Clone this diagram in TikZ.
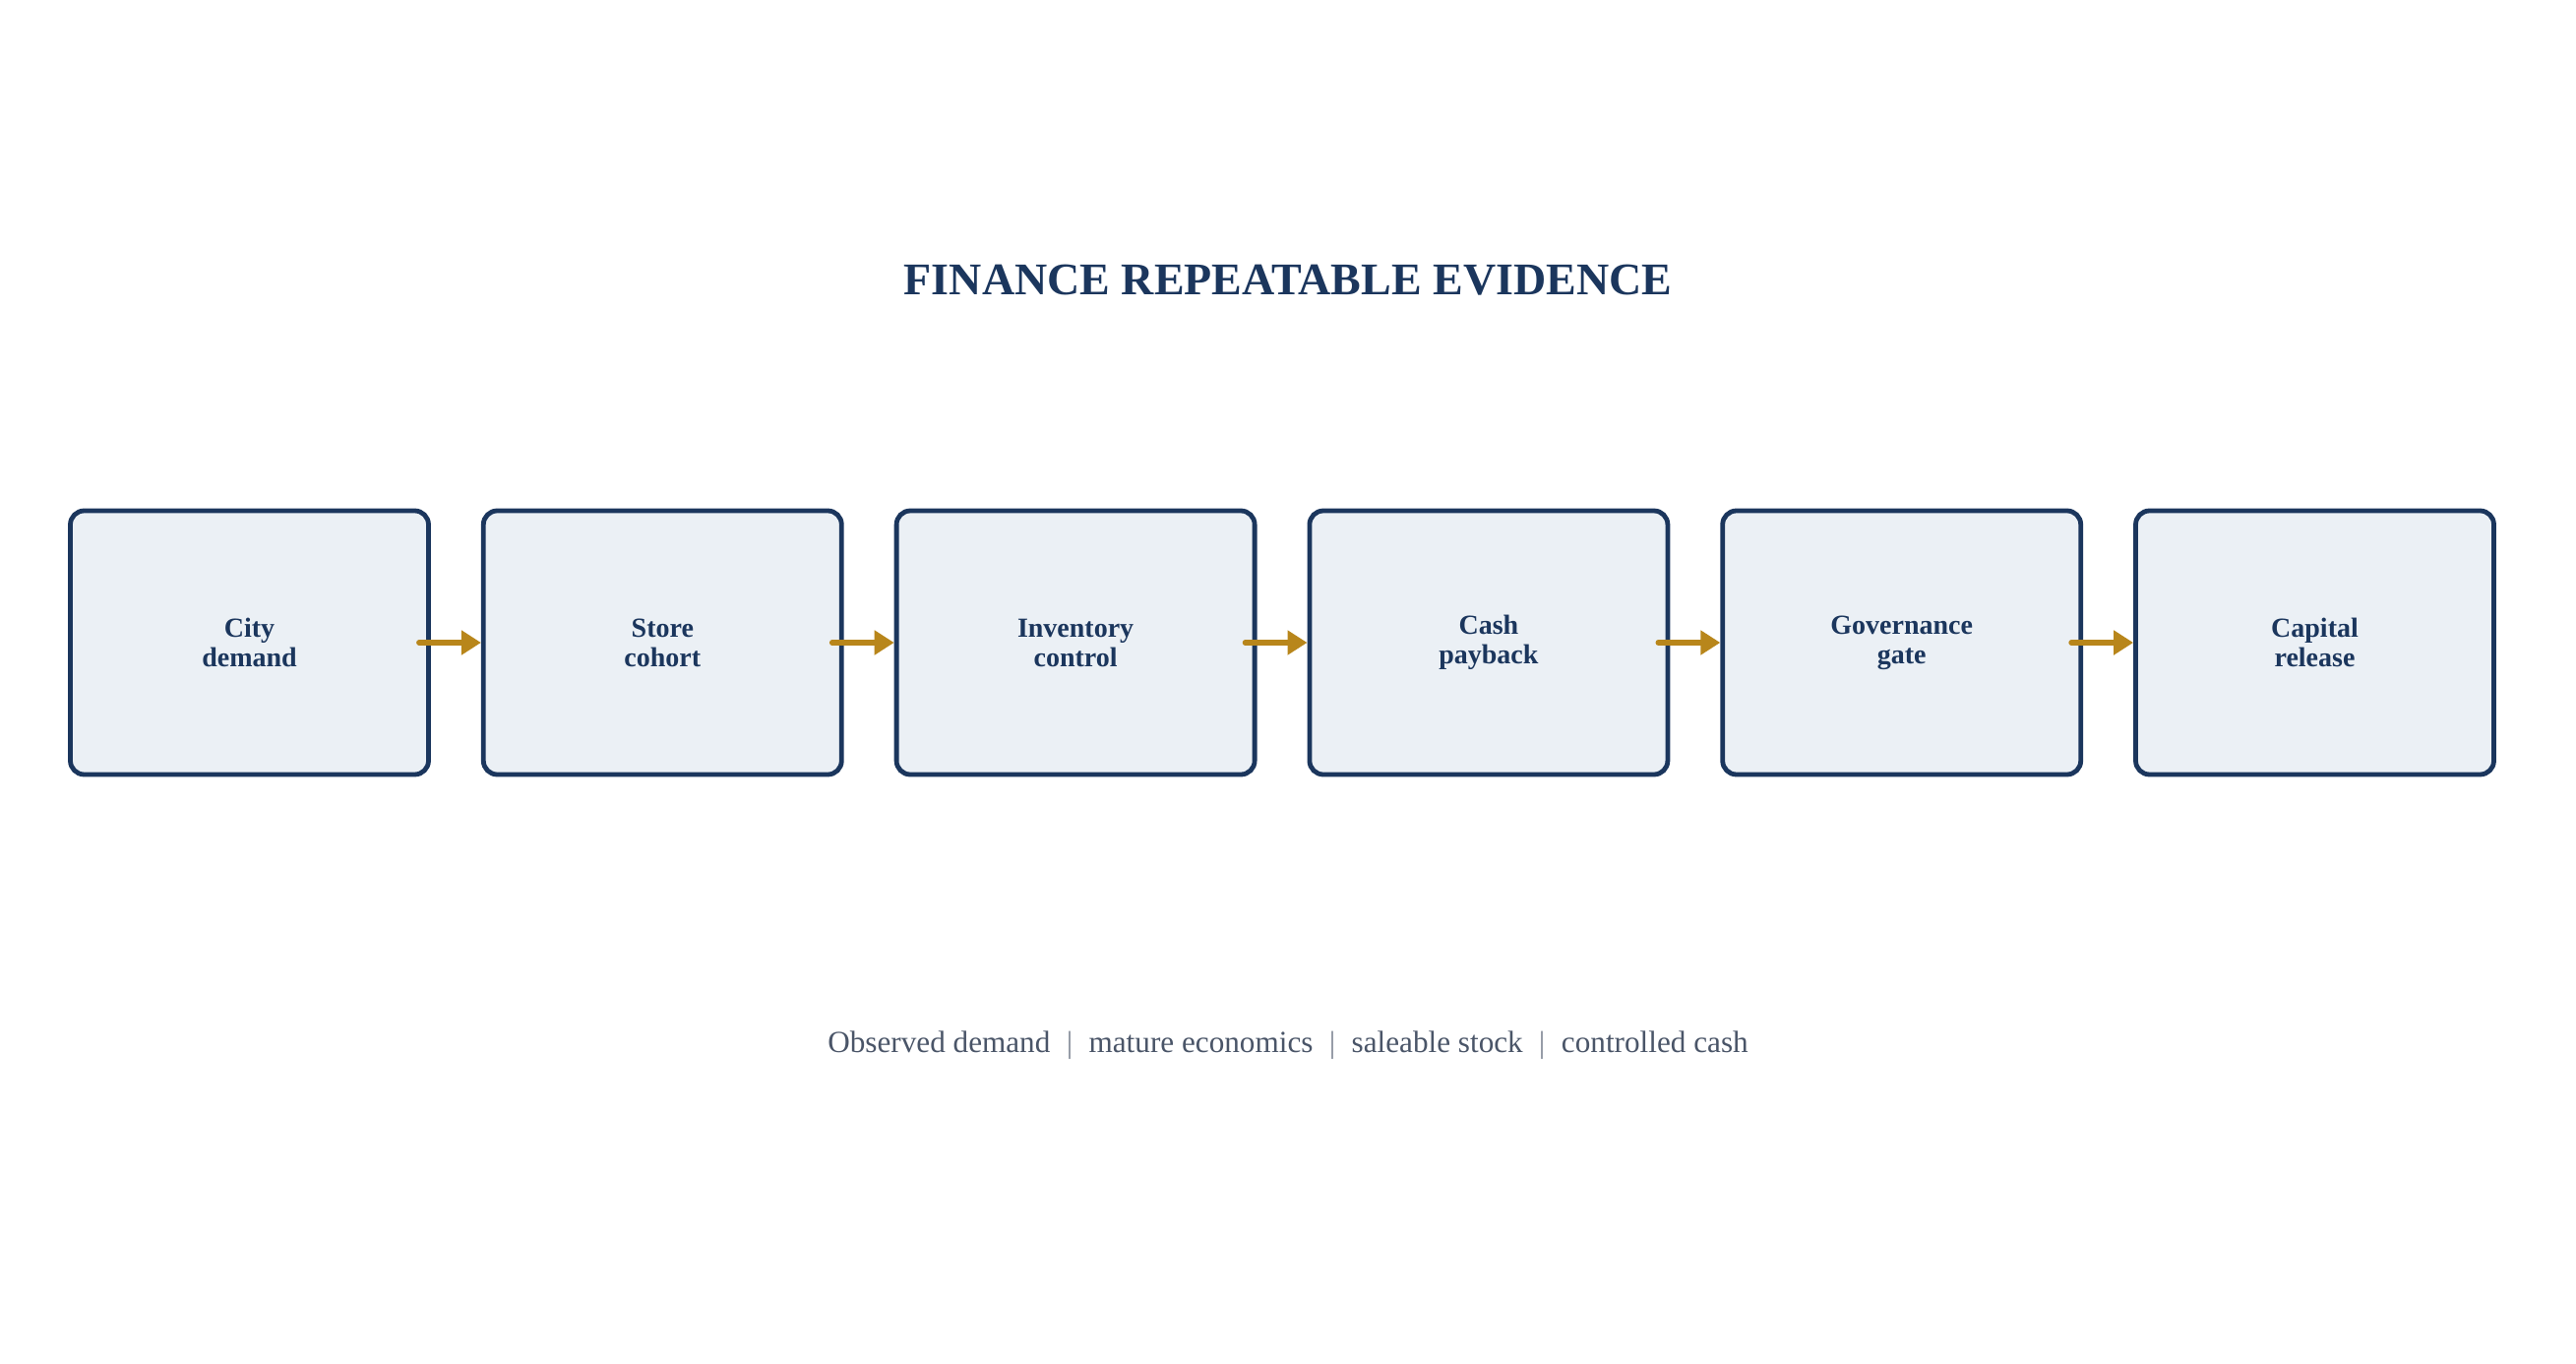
\documentclass[tikz,border=0pt]{standalone}
\usepackage{fontspec}
\setmainfont{Liberation Serif}
\usetikzlibrary{positioning, arrows.meta}
\definecolor{navy}{HTML}{1B365D}
\definecolor{boxfill}{HTML}{EBF0F5}
\definecolor{gold}{HTML}{B8861B}
\definecolor{slate}{HTML}{4A5568}
\tikzset{
    stage/.style={rectangle, draw=navy, line width=2.4pt, fill=boxfill, rounded corners=7pt, minimum width=182pt, minimum height=134pt, align=center, font=\fontsize{14}{15}\selectfont\bfseries, text=navy},
    arrow/.style={-{Triangle[length=10pt, width=12pt]}, line width=2.8pt, draw=gold, line cap=round}
}
\begin{document}
\begin{tikzpicture}[x=0.5pt, y=-0.5pt]
    \useasboundingbox (0,0) rectangle (2618,1386);

    % Title
    \node (title) at (1309,285) {\fontsize{23}{26}\selectfont\bfseries\color{navy}FINANCE REPEATABLE EVIDENCE};

    % Stages
    \node[stage] (s1) at (253.5,653) {City\\demand};
    \node[stage, right=25.5pt of s1] (s2) {Store\\cohort};
    \node[stage, right=25.5pt of s2] (s3) {Inventory\\control};
    \node[stage, right=25.5pt of s3] (s4) {Cash\\payback};
    \node[stage, right=25.5pt of s4] (s5) {Governance\\gate};
    \node[stage, right=25.5pt of s5] (s6) {Capital\\release};

    % Connectors
    \foreach \a/\b in {s1/s2, s2/s3, s3/s4, s4/s5, s5/s6}
        \draw[arrow] ([xshift=-6pt]\a.east) -- (\b.west);

    % Footer
    \node (foot) at (1309,1062) {\fontsize{15.6}{18}\selectfont\color{slate}Observed demand \ $|$\ \ mature economics \ $|$\ \ saleable stock \ $|$\ \ controlled cash};
\end{tikzpicture}
\end{document}
